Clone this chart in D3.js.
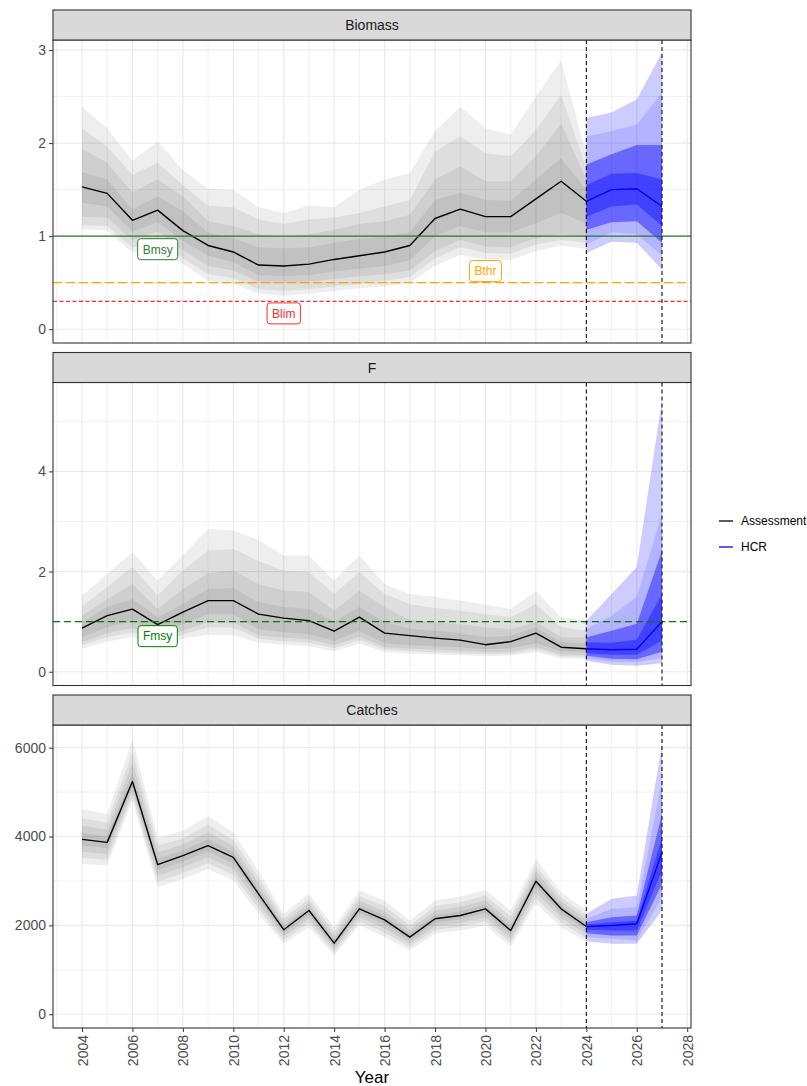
<!DOCTYPE html>
<html>
<head>
<meta charset="utf-8">
<script src="https://cdn.jsdelivr.net/npm/d3@7"></script>
<style>
body { margin:0; background:#fff; }
svg { font-family:"Liberation Sans", Arial, sans-serif; }
.axis .tick text { fill:#4d4d4d; font-size:14px; }
.axis .tick line { stroke:#333; }
.axis path.domain { display:none; }
.strip_text { font-size:14px; fill:#1a1a1a; }
.axislabel { font-size:17px; fill:#000; }
.legend_text { font-size:12px; fill:#000; }
.ref_label { font-size:12px; }
</style>
</head>
<body>
<div id="chart"></div>
<script>
// years
var asmtYears = [2004,2005,2006,2007,2008,2009,2010,2011,2012,2013,2014,2015,2016,2017,2018,2019,2020,2021,2022,2023,2024];
var hcrYears = [2024,2025,2026,2027];
var xTicks = [2004,2006,2008,2010,2012,2014,2016,2018,2020,2022,2024,2026,2028];
var xMinor = [2003,2005,2007,2009,2011,2013,2015,2017,2019,2021,2023,2025,2027];
var projLines = [2024, 2027];

// ---- Biomass ----  bands go outer -> inner
var bioMed = [1.53,1.46,1.17,1.28,1.06,0.90,0.83,0.69,0.68,0.70,0.75,0.79,0.83,0.90,1.19,1.29,1.21,1.21,1.40,1.59,1.375];
var bioHi = [
  [2.39,2.16,1.81,2.02,1.71,1.51,1.50,1.31,1.25,1.33,1.31,1.50,1.61,1.68,2.13,2.39,2.16,2.09,2.50,2.89,1.88],
  [2.16,1.96,1.66,1.79,1.55,1.33,1.31,1.18,1.13,1.18,1.20,1.25,1.32,1.39,1.91,2.07,1.89,1.86,2.14,2.52,1.73],
  [1.94,1.79,1.47,1.61,1.43,1.16,1.11,1.02,0.99,1.02,1.07,1.13,1.16,1.23,1.61,1.75,1.59,1.59,1.86,2.21,1.61],
  [1.69,1.61,1.29,1.43,1.27,1.04,0.98,0.88,0.87,0.88,0.93,0.97,1.00,1.04,1.39,1.47,1.39,1.38,1.61,1.84,1.50]
];
var bioLo = [
  [1.07,1.06,0.82,0.90,0.70,0.52,0.49,0.38,0.36,0.38,0.41,0.44,0.46,0.50,0.68,0.80,0.75,0.74,0.84,0.90,0.86],
  [1.12,1.11,0.875,0.96,0.76,0.59,0.55,0.43,0.41,0.43,0.46,0.49,0.52,0.56,0.76,0.88,0.82,0.81,0.91,0.96,0.93],
  [1.21,1.20,0.96,1.05,0.85,0.68,0.63,0.51,0.50,0.51,0.54,0.57,0.59,0.63,0.84,0.96,0.89,0.88,0.98,1.02,1.00],
  [1.36,1.32,1.05,1.15,0.95,0.79,0.72,0.58,0.57,0.58,0.62,0.65,0.68,0.74,1.00,1.11,1.04,1.04,1.14,1.25,1.14]
];
var bioHcrMed = [1.375,1.50,1.51,1.32];
var bioHcrHi = [[2.27,2.33,2.47,2.97],[2.07,2.13,2.20,2.54],[1.77,1.88,1.98,1.98],[1.55,1.67,1.68,1.61]];
var bioHcrLo = [[0.82,0.94,0.93,0.64],[0.91,1.04,1.02,0.79],[1.07,1.15,1.16,0.93],[1.21,1.32,1.34,1.11]];

// ---- F ----
var fMed = [0.87,1.12,1.25,0.94,1.19,1.42,1.42,1.15,1.07,1.02,0.81,1.09,0.77,0.72,0.67,0.63,0.54,0.60,0.77,0.49,0.46];
var fHi = [
  [1.52,1.95,2.39,1.82,2.33,2.85,2.82,2.63,2.32,2.32,1.82,2.32,1.75,1.55,1.49,1.42,1.34,1.25,1.61,1.09,1.02],
  [1.30,1.69,2.09,1.52,2.02,2.42,2.45,2.21,2.02,1.99,1.55,1.99,1.55,1.35,1.27,1.22,1.15,1.09,1.35,0.89,0.82],
  [1.12,1.45,1.75,1.25,1.65,1.97,2.02,1.75,1.62,1.59,1.22,1.62,1.29,1.03,0.99,0.95,0.89,0.85,1.00,0.69,0.69],
  [0.99,1.29,1.45,1.09,1.35,1.65,1.67,1.39,1.29,1.25,1.00,1.29,1.00,0.86,0.82,0.77,0.69,0.72,0.89,0.59,0.57]
];
var fLo = [
  [0.46,0.60,0.70,0.50,0.66,0.74,0.73,0.58,0.54,0.51,0.41,0.56,0.39,0.36,0.35,0.33,0.31,0.32,0.39,0.27,0.26],
  [0.53,0.69,0.79,0.57,0.74,0.89,0.88,0.66,0.61,0.58,0.47,0.63,0.44,0.41,0.39,0.37,0.35,0.36,0.44,0.31,0.30],
  [0.59,0.77,0.88,0.64,0.82,0.99,0.98,0.73,0.68,0.65,0.53,0.70,0.49,0.46,0.44,0.42,0.39,0.40,0.49,0.35,0.33],
  [0.69,0.89,1.02,0.75,0.95,1.15,1.15,0.85,0.79,0.75,0.62,0.82,0.57,0.53,0.51,0.49,0.45,0.47,0.57,0.41,0.39]
];
var fHcrMed = [0.46,0.44,0.45,1.00];
var fHcrHi = [[1.02,1.55,2.09,5.42],[0.85,1.12,1.49,3.15],[0.69,0.82,0.96,2.42],[0.59,0.58,0.64,1.55]];
var fHcrLo = [[0.22,0.14,0.12,0.17],[0.27,0.20,0.19,0.28],[0.32,0.26,0.25,0.40],[0.37,0.34,0.34,0.62]];

// ---- Catches ----
var cMed = [3935,3868,5237,3367,3569,3794,3531,2709,1901,2334,1600,2372,2125,1736,2148,2222,2372,1885,2992,2372,1975];
var cHi = [
  [4617,4505,6189,3980,4130,4467,4092,3232,2260,2709,1960,2783,2559,2110,2559,2649,2799,2334,3494,2746,2334],
  [4412,4314,5903,3796,3962,4265,3924,3075,2152,2597,1852,2660,2429,1998,2436,2521,2671,2199,3343,2634,2226],
  [4242,4155,5665,3643,3821,4097,3783,2944,2063,2503,1762,2557,2320,1904,2333,2414,2564,2087,3218,2540,2137],
  [4085,4008,5446,3502,3692,3942,3654,2824,1980,2417,1679,2462,2220,1818,2238,2316,2466,1984,3102,2454,2054]
];
var cLo = [
  [3382,3345,4804,2857,3046,3270,3008,2260,1587,1960,1324,2000,1736,1437,1811,1885,1998,1511,2485,1960,1623],
  [3520,3476,4912,2984,3177,3401,3139,2372,1665,2053,1393,2093,1833,1512,1895,1969,2091,1604,2612,2063,1711],
  [3658,3606,5020,3112,3307,3532,3269,2484,1744,2147,1462,2186,1930,1586,1979,2053,2185,1698,2738,2166,1799],
  [3797,3737,5129,3239,3438,3663,3400,2597,1822,2240,1531,2279,2028,1661,2064,2138,2278,1791,2865,2269,1887]
];
var cHcrMed = [1975,1998,2036,3643];
var cHcrHi = [[2260,2597,2671,6076],[2148,2372,2409,5252],[2072,2184,2222,4505],[2020,2072,2110,3980]];
var cHcrLo = [[1645,1587,1587,2334],[1736,1699,1661,2633],[1825,1773,1773,2934],[1900,1885,1885,3232]];

// reference points
var refLines = [
  {panel:0, value:1.0, color:"#2e7d32", dash:null, label:"Bmsy", lx:2007, ly:0.86},
  {panel:0, value:0.5, color:"#ffa500", dash:"9,4", label:"Bthr", lx:2020, ly:0.625},
  {panel:0, value:0.3, color:"#ff2a2a", dash:"4,2.5", label:"Blim", lx:2012, ly:0.17},
  {panel:1, value:1.0, color:"#008000", dash:"7,4", label:"Fmsy", lx:2007, ly:0.71}
];

var panelNames = ["Biomass", "F", "Catches"];
var panelMax = [2.96, 5.5, 6200];
var panelTicks = [[0,1,2,3],[0,2,4],[0,2000,4000,6000]];
var panelMinor = [[0.5,1.5,2.5],[1,3,5],[1000,3000,5000]];
var panelData = [
  {med:bioMed, hi:bioHi, lo:bioLo, hmed:bioHcrMed, hhi:bioHcrHi, hlo:bioHcrLo},
  {med:fMed, hi:fHi, lo:fLo, hmed:fHcrMed, hhi:fHcrHi, hlo:fHcrLo},
  {med:cMed, hi:cHi, lo:cLo, hmed:cHcrMed, hhi:cHcrHi, hlo:cHcrLo}
];

var greyOpac = [0.065,0.065,0.065,0.065];
var blueOpac = [0.2,0.12,0.42,0.37];

var draw = function(){
  var svg = d3.select("#chart").append("svg").attr("width", 807).attr("height", 1086);
  var left = 53, right = 691, stripH = 30, innerH = 303;
  var tops = [10, 352.5, 695];

  // ggplot style 5% expansion
  var x = d3.scaleLinear().domain([2004 - 23*0.05, 2027 + 23*0.05]).range([left, right]);

  for (var p = 0; p < 3; p++) {
    var top = tops[p] + stripH, bottom = top + innerH;
    var pad = panelMax[p]*0.05;
    var y = d3.scaleLinear().domain([-pad, panelMax[p] + pad]).range([bottom, top]);
    var g = svg.append("g").attr("class", "panel" + p);
    var d = panelData[p];

    g.append("rect").attr("x", left).attr("y", top).attr("width", right-left).attr("height", innerH).attr("fill", "white");

    // grid
    g.selectAll(".vminor").data(xMinor).enter().append("line")
      .attr("x1", function(v){ return x(v); }).attr("x2", function(v){ return x(v); })
      .attr("y1", top).attr("y2", bottom).attr("stroke", "#ebebeb").attr("stroke-width", 0.7);
    g.selectAll(".hminor").data(panelMinor[p]).enter().append("line")
      .attr("x1", left).attr("x2", right)
      .attr("y1", function(v){ return y(v); }).attr("y2", function(v){ return y(v); })
      .attr("stroke", "#ebebeb").attr("stroke-width", 0.7);
    g.selectAll(".vmajor").data(xTicks).enter().append("line")
      .attr("x1", function(v){ return x(v); }).attr("x2", function(v){ return x(v); })
      .attr("y1", top).attr("y2", bottom).attr("stroke", "#ebebeb").attr("stroke-width", 1.2);
    g.selectAll(".hmajor").data(panelTicks[p]).enter().append("line")
      .attr("x1", left).attr("x2", right)
      .attr("y1", function(v){ return y(v); }).attr("y2", function(v){ return y(v); })
      .attr("stroke", "#ebebeb").attr("stroke-width", 1.2);

    // bands
    var drawBands = function(yrs, his, los, color, opac){
      for (var k = 0; k < his.length; k++) {
        var pts = yrs.map(function(yr, i){ return [yr, los[k][i], his[k][i]]; });
        var area = d3.area()
          .x(function(q){ return x(q[0]); })
          .y0(function(q){ return y(q[1]); })
          .y1(function(q){ return y(q[2]); });
        g.append("path").datum(pts).attr("d", area)
          .attr("fill", color).attr("fill-opacity", opac[k]).attr("stroke", "none");
      }
    };
    drawBands(asmtYears, d.hi, d.lo, "#000000", greyOpac);
    drawBands(hcrYears, d.hhi, d.hlo, "#0000ff", blueOpac);

    var line = d3.line()
      .x(function(q){ return x(q[0]); })
      .y(function(q){ return y(q[1]); });
    g.append("path").datum(asmtYears.map(function(yr, i){ return [yr, d.med[i]]; }))
      .attr("d", line).attr("fill", "none").attr("stroke", "#000").attr("stroke-width", 1.4)
      .attr("stroke-linejoin", "round");
    g.append("path").datum(hcrYears.map(function(yr, i){ return [yr, d.hmed[i]]; }))
      .attr("d", line).attr("fill", "none").attr("stroke", "#0000ff").attr("stroke-width", 1.4)
      .attr("stroke-linejoin", "round");

    // reference lines
    var refs = refLines.filter(function(r){ return r.panel == p; });
    refs.forEach(function(r){
      g.append("line").attr("x1", left).attr("x2", right)
        .attr("y1", y(r.value)).attr("y2", y(r.value))
        .attr("stroke", r.color).attr("stroke-width", 1.3)
        .attr("stroke-dasharray", r.dash);
    });

    // projection period lines
    g.selectAll(".proj").data(projLines).enter().append("line")
      .attr("x1", function(v){ return x(v); }).attr("x2", function(v){ return x(v); })
      .attr("y1", top).attr("y2", bottom)
      .attr("stroke", "#111").attr("stroke-width", 1.1).attr("stroke-dasharray", "4,3");

    // labels
    refs.forEach(function(r){
      var lg = g.append("g").attr("transform", "translate(" + x(r.lx) + "," + y(r.ly) + ")");
      var box = lg.append("rect");
      var t = lg.append("text").attr("class", "ref_label").attr("text-anchor", "middle")
        .attr("dy", "0.36em").attr("fill", r.color).text(r.label);
      var w = t.node().getComputedTextLength() + 10;
      box.attr("x", -w/2).attr("y", -10.5).attr("width", w).attr("height", 21)
        .attr("rx", 3).attr("fill", "white").attr("stroke", r.color).attr("stroke-width", 1);
    });

    // border + strip
    g.append("rect").attr("x", left).attr("y", top).attr("width", right-left).attr("height", innerH)
      .attr("fill", "none").attr("stroke", "#333").attr("stroke-width", 1.1);
    g.append("rect").attr("x", left).attr("y", tops[p]).attr("width", right-left).attr("height", stripH)
      .attr("fill", "#d9d9d9").attr("stroke", "#333").attr("stroke-width", 1.1);
    g.append("text").attr("class", "strip_text").attr("text-anchor", "middle")
      .attr("x", (left+right)/2).attr("y", tops[p] + stripH/2).attr("dy", "0.36em")
      .text(panelNames[p]);

    // y axis
    var yAxis = d3.axisLeft(y).tickValues(panelTicks[p]).tickSize(4).tickPadding(3).tickFormat(d3.format("d"));
    g.append("g").attr("class", "y axis").attr("transform", "translate(" + left + ",0)").call(yAxis);

    if (p == 2) {
      var xAxis = d3.axisBottom(x).tickValues(xTicks).tickSize(4).tickFormat(d3.format("d"));
      var xa = g.append("g").attr("class", "x axis").attr("transform", "translate(0," + bottom + ")").call(xAxis);
      xa.selectAll(".tick text")
        .attr("transform", "rotate(-90)")
        .attr("x", -7).attr("y", 0).attr("dy", "0.36em")
        .style("text-anchor", "end");
    }
  }

  svg.append("text").attr("class", "axislabel").attr("text-anchor", "middle")
    .attr("x", (left+right)/2).attr("y", 1083).text("Year");

  // legend
  var legendItems = [["Assessment", "#000"], ["HCR", "#0000ff"]];
  var leg = svg.append("g").attr("class", "legend");
  leg.selectAll(".legend_line").data(legendItems).enter().append("line")
    .attr("x1", 719).attr("x2", 733)
    .attr("y1", function(q, i){ return 521 + i*26; }).attr("y2", function(q, i){ return 521 + i*26; })
    .attr("stroke", function(q){ return q[1]; }).attr("stroke-width", 1.3);
  leg.selectAll(".legend_text").data(legendItems).enter().append("text")
    .attr("class", "legend_text").attr("x", 741)
    .attr("y", function(q, i){ return 521 + i*26; }).attr("dy", "0.36em")
    .text(function(q){ return q[0]; });
};

window.onload = function(){
  draw();
};
</script>
</body>
</html>
